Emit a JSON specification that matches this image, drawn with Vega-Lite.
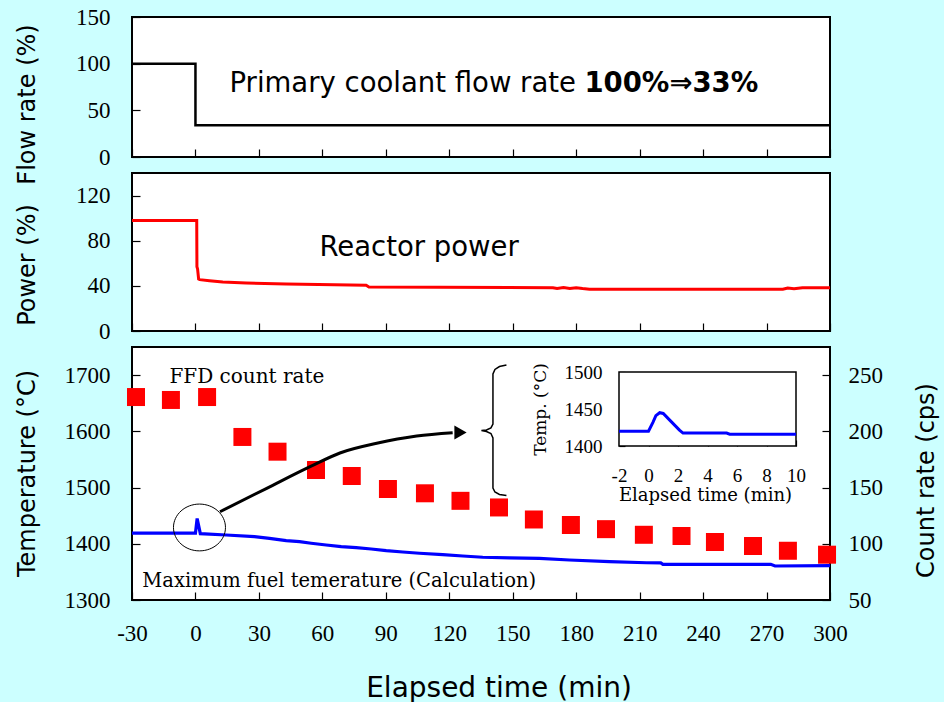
{
  "$schema": "https://vega.github.io/schema/vega-lite/v6.json",
  "padding": {"left": 14, "top": 5, "right": 5, "bottom": 0},
  "datasets": {
    "flow": [{"t": -30, "v": 100}, {"t": 0, "v": 100}, {"t": 0, "v": 34}, {"t": 300, "v": 34}],
    "power": [
      {"t": -30, "p": 98}, {"t": 0.6, "p": 98}, {"t": 0.7, "p": 57}, {"t": 1.0, "p": 55}, {"t": 1.5, "p": 46},
      {"t": 2, "p": 45.5}, {"t": 6.6, "p": 44.6}, {"t": 12.9, "p": 43.4}, {"t": 24, "p": 42.5}, {"t": 42.9, "p": 41.6},
      {"t": 80.7, "p": 40.5}, {"t": 82, "p": 39}, {"t": 169, "p": 38.4}, {"t": 171, "p": 37.6}, {"t": 174, "p": 38.5},
      {"t": 177, "p": 37.6}, {"t": 180, "p": 38.4}, {"t": 183, "p": 37.6}, {"t": 186.3, "p": 37.1}, {"t": 277.7, "p": 37.0},
      {"t": 280, "p": 38.1}, {"t": 283, "p": 37.4}, {"t": 287, "p": 38.4}, {"t": 300, "p": 38.4}
    ],
    "temp": [
      {"t": -30, "T": 1419}, {"t": 0, "T": 1419}, {"t": 0.8, "T": 1445}, {"t": 2.3, "T": 1418}, {"t": 14.5, "T": 1415.6},
      {"t": 27.9, "T": 1412.6}, {"t": 35, "T": 1409.7}, {"t": 42.9, "T": 1405.5}, {"t": 49.2, "T": 1403.7}, {"t": 54.7, "T": 1400.9},
      {"t": 61.8, "T": 1397.8}, {"t": 68.9, "T": 1394.8}, {"t": 76, "T": 1393}, {"t": 83.1, "T": 1390.7}, {"t": 90.2, "T": 1387.7},
      {"t": 98, "T": 1385.4}, {"t": 105.9, "T": 1383.1}, {"t": 116.9, "T": 1380.6}, {"t": 126.4, "T": 1378.3}, {"t": 135.8, "T": 1376},
      {"t": 148.5, "T": 1375}, {"t": 162.6, "T": 1374}, {"t": 176.8, "T": 1371.1}, {"t": 195.7, "T": 1368.1}, {"t": 213.2, "T": 1366.3},
      {"t": 220, "T": 1366}, {"t": 221, "T": 1363.5}, {"t": 272, "T": 1363.5}, {"t": 274, "T": 1360.5}, {"t": 300, "T": 1361}
    ],
    "ffd": [
      {"t": -28.1, "cps": 230.5}, {"t": -11.6, "cps": 227.9}, {"t": 5.5, "cps": 230.5}, {"t": 22.2, "cps": 195}, {"t": 38.8, "cps": 181.9},
      {"t": 57, "cps": 165.6}, {"t": 73.9, "cps": 160.3}, {"t": 91, "cps": 148.7}, {"t": 108.5, "cps": 144.9}, {"t": 125.3, "cps": 138.2},
      {"t": 143.5, "cps": 132.3}, {"t": 160, "cps": 121.6}, {"t": 177.5, "cps": 116.7}, {"t": 194.1, "cps": 113}, {"t": 212, "cps": 108},
      {"t": 229.8, "cps": 106.9}, {"t": 245.6, "cps": 101.6}, {"t": 263.6, "cps": 98}, {"t": 280.1, "cps": 93.8}, {"t": 298.6, "cps": 90.3}
    ],
    "arrow": [
      {"t": 11.6, "T": 1457}, {"t": 33.7, "T": 1498.7}, {"t": 54.2, "T": 1537.1}, {"t": 68.3, "T": 1561.5},
      {"t": 85.7, "T": 1578.7}, {"t": 104.6, "T": 1591.7}, {"t": 121.6, "T": 1597.6}
    ],
    "brace": [
      {"i": 0, "t": 147.03, "T": 1718.0}, {"i": 1, "t": 143.72, "T": 1715.3}, {"i": 2, "t": 141.59, "T": 1710.0},
      {"i": 3, "t": 140.65, "T": 1702.0}, {"i": 4, "t": 140.65, "T": 1613.1}, {"i": 5, "t": 139.70, "T": 1606.0},
      {"i": 6, "t": 137.58, "T": 1602.4}, {"i": 7, "t": 135.21, "T": 1601.5}, {"i": 8, "t": 137.58, "T": 1599.7},
      {"i": 9, "t": 139.70, "T": 1596.2}, {"i": 10, "t": 140.65, "T": 1588.2}, {"i": 11, "t": 140.65, "T": 1499.2},
      {"i": 12, "t": 141.59, "T": 1492.1}, {"i": 13, "t": 143.72, "T": 1487.7}, {"i": 14, "t": 147.03, "T": 1485.9}
    ],
    "inset": [
      {"t": -2, "T": 1420}, {"t": 0, "T": 1420}, {"t": 0.3, "T": 1432}, {"t": 0.5, "T": 1441}, {"t": 0.76, "T": 1445},
      {"t": 1.0, "T": 1444}, {"t": 1.44, "T": 1435}, {"t": 2.1, "T": 1421.5}, {"t": 2.34, "T": 1417.5}, {"t": 5.3, "T": 1417.5},
      {"t": 5.5, "T": 1416}, {"t": 10, "T": 1416}
    ]
  },
  "spacing": 16,
  "bounds": "flush",
  "vconcat": [
    {
      "width": 698,
      "height": 140,
      "layer": [
        {
          "data": {"name": "flow"},
          "mark": {"type": "line", "color": "black", "strokeWidth": 2.5},
          "encoding": {
            "x": {"field": "t", "type": "quantitative", "scale": {"domain": [-30, 300], "nice": false, "zero": false},
              "axis": {"labels": false, "labelPadding": 0, "title": null, "values": [-30, 0, 30, 60, 90, 120, 150, 180, 210, 240, 270, 300]}},
            "y": {"field": "v", "type": "quantitative", "scale": {"domain": [0, 150], "nice": false},
              "axis": {"values": [0, 50, 100, 150], "title": "Flow rate (%)", "titleX": -97.5, "titleY": 87, "titleAngle": 270, "titleAlign": "center", "titleBaseline": "alphabetic"}}
          }
        },
        {
          "data": {"values": [{}]},
          "mark": {"type": "text", "text": "Primary coolant flow rate", "font": "DejaVu Sans", "fontSize": 27.5, "align": "left", "baseline": "alphabetic", "color": "black"},
          "encoding": {"x": {"datum": 16.1}, "y": {"datum": 69.4}}
        },
        {
          "data": {"values": [{}]},
          "mark": {"type": "text", "text": "100%⇒33%", "font": "DejaVu Sans", "fontWeight": "bold", "fontSize": 27.5, "align": "left", "baseline": "alphabetic", "color": "black"},
          "encoding": {"x": {"datum": 183.9}, "y": {"datum": 69.4}}
        }
      ]
    },
    {
      "width": 698,
      "height": 158,
      "layer": [
        {
          "data": {"name": "power"},
          "mark": {"type": "line", "color": "#ff0000", "strokeWidth": 3},
          "encoding": {
            "x": {"field": "t", "type": "quantitative", "scale": {"domain": [-30, 300], "nice": false, "zero": false},
              "axis": {"labels": false, "labelPadding": 0, "title": null, "values": [-30, 0, 30, 60, 90, 120, 150, 180, 210, 240, 270, 300]}},
            "y": {"field": "p", "type": "quantitative", "scale": {"domain": [0, 140], "nice": false},
              "axis": {"values": [0, 40, 80, 120], "title": "Power (%)", "titleX": -97.5, "titleY": 91.5, "titleAngle": 270, "titleAlign": "center", "titleBaseline": "alphabetic"}}
          }
        },
        {
          "data": {"values": [{}]},
          "mark": {"type": "text", "text": "Reactor power", "font": "DejaVu Sans", "fontSize": 27.5, "align": "left", "baseline": "alphabetic", "color": "black"},
          "encoding": {"x": {"datum": 58.6}, "y": {"datum": 66.5}}
        }
      ]
    },
    {
      "width": 698,
      "height": 253,
      "resolve": {"scale": {"x": "independent", "y": "independent"}, "axis": {"x": "independent", "y": "independent"}},
      "layer": [
        {
          "data": {"name": "temp"},
          "mark": {"type": "line", "color": "#0000ff", "strokeWidth": 3.2},
          "encoding": {
            "x": {"field": "t", "type": "quantitative", "scale": {"domain": [-30, 300], "nice": false, "zero": false},
              "axis": {"orient": "bottom", "values": [-30, 0, 30, 60, 90, 120, 150, 180, 210, 240, 270, 300], "title": "Elapsed time (min)", "titleFontSize": 28, "titleX": 366.5, "titleY": 96, "titleAlign": "center", "titleBaseline": "alphabetic"}},
            "y": {"field": "T", "type": "quantitative", "scale": {"domain": [1300, 1750], "nice": false, "zero": false},
              "axis": {"orient": "left", "values": [1300, 1400, 1500, 1600, 1700], "title": "Temperature (°C)", "titleX": -97.5, "titleY": 126, "titleAngle": 270, "titleAlign": "center", "titleBaseline": "alphabetic"}}
          }
        },
        {
          "data": {"name": "ffd"},
          "mark": {"type": "point", "shape": "square", "filled": true, "color": "#ff0000", "size": 324, "opacity": 1},
          "encoding": {
            "x": {"field": "t", "type": "quantitative", "scale": {"domain": [-30, 300], "nice": false, "zero": false}, "axis": null},
            "y": {"field": "cps", "type": "quantitative", "scale": {"domain": [50, 275], "nice": false, "zero": false},
              "axis": {"orient": "right", "values": [50, 100, 150, 200, 250], "labelPadding": 26, "title": "Count rate (cps)", "titleX": 103, "titleY": 133, "titleAngle": 270, "titleAlign": "center", "titleBaseline": "alphabetic"}}
          }
        },
        {
          "data": {"values": [{}]},
          "mark": {"type": "point", "shape": "M-1,0A1,0.9,0,1,1,1,0A1,0.9,0,1,1,-1,0Z", "filled": false, "stroke": "black", "strokeWidth": 1, "size": 2704, "opacity": 1},
          "encoding": {
            "x": {"datum": 1.9, "type": "quantitative", "scale": {"domain": [-30, 300], "nice": false, "zero": false}, "axis": null},
            "y": {"datum": 1429, "type": "quantitative", "scale": {"domain": [1300, 1750], "nice": false, "zero": false}, "axis": null}
          }
        },
        {
          "data": {"name": "arrow"},
          "mark": {"type": "line", "color": "black", "strokeWidth": 3, "interpolate": "monotone"},
          "encoding": {
            "x": {"field": "t", "type": "quantitative", "scale": {"domain": [-30, 300], "nice": false, "zero": false}, "axis": null},
            "y": {"field": "T", "type": "quantitative", "scale": {"domain": [1300, 1750], "nice": false, "zero": false}, "axis": null}
          }
        },
        {
          "data": {"values": [{}]},
          "mark": {"type": "point", "shape": "triangle-right", "filled": true, "color": "black", "size": 200, "opacity": 1},
          "encoding": {
            "x": {"datum": 125.3, "type": "quantitative", "scale": {"domain": [-30, 300], "nice": false, "zero": false}, "axis": null},
            "y": {"datum": 1597.9, "type": "quantitative", "scale": {"domain": [1300, 1750], "nice": false, "zero": false}, "axis": null}
          }
        },
        {
          "data": {"name": "brace"},
          "mark": {"type": "line", "color": "black", "strokeWidth": 1.5},
          "encoding": {
            "x": {"field": "t", "type": "quantitative", "scale": {"domain": [-30, 300], "nice": false, "zero": false}, "axis": null},
            "y": {"field": "T", "type": "quantitative", "scale": {"domain": [1300, 1750], "nice": false, "zero": false}, "axis": null},
            "order": {"field": "i"}
          }
        },
        {
          "data": {"values": [{}]},
          "mark": {"type": "text", "text": "FFD count rate", "font": "DejaVu Serif", "fontSize": 20, "align": "left", "baseline": "alphabetic", "color": "black"},
          "encoding": {
            "x": {"datum": -12.3, "type": "quantitative", "scale": {"domain": [-30, 300], "nice": false, "zero": false}, "axis": null},
            "y": {"datum": 1686, "type": "quantitative", "scale": {"domain": [1300, 1750], "nice": false, "zero": false}, "axis": null}
          }
        },
        {
          "data": {"values": [{}]},
          "mark": {"type": "text", "text": "Maximum fuel temerature (Calculation)", "font": "DejaVu Serif", "fontSize": 19.5, "align": "left", "baseline": "alphabetic", "color": "black"},
          "encoding": {
            "x": {"datum": -25.1, "type": "quantitative", "scale": {"domain": [-30, 300], "nice": false, "zero": false}, "axis": null},
            "y": {"datum": 1322.6, "type": "quantitative", "scale": {"domain": [1300, 1750], "nice": false, "zero": false}, "axis": null}
          }
        },
        {
          "data": {"values": [{}]},
          "mark": {"type": "rect", "fill": "white", "stroke": "black", "strokeWidth": 1.5},
          "encoding": {
            "x": {"datum": -2, "type": "quantitative", "scale": {"domain": [-2, 10], "range": [487, 664], "nice": false, "zero": false}, "axis": null},
            "x2": {"datum": 10},
            "y": {"datum": 1400, "type": "quantitative", "scale": {"domain": [1400, 1500], "range": [99, 25], "nice": false, "zero": false}, "axis": null},
            "y2": {"datum": 1500}
          }
        },
        {
          "data": {"name": "inset"},
          "mark": {"type": "line", "color": "#0000ff", "strokeWidth": 3},
          "encoding": {
            "x": {"field": "t", "type": "quantitative", "scale": {"domain": [-2, 10], "range": [487, 664], "nice": false, "zero": false},
              "axis": {"orient": "bottom", "offset": -154, "values": [-2, 0, 2, 4, 6, 8, 10], "tickSize": -6, "labelPadding": 26, "labelFontSize": 19,
                "title": "Elapsed time (min)", "titleFont": "DejaVu Serif", "titleFontSize": 18, "titleX": 573, "titleY": 54, "titleAlign": "center", "titleBaseline": "alphabetic"}},
            "y": {"field": "T", "type": "quantitative", "scale": {"domain": [1400, 1500], "range": [99, 25], "nice": false, "zero": false},
              "axis": {"orient": "left", "offset": -487, "values": [1400, 1450, 1500], "tickSize": -6, "labelPadding": 23, "labelFontSize": 19,
                "title": "Temp. (°C)", "titleFont": "DejaVu Serif", "titleFontSize": 17, "titleX": -74, "titleY": 62, "titleAngle": 270, "titleAlign": "center", "titleBaseline": "alphabetic"}}
          }
        }
      ]
    }
  ],
  "config": {
    "background": "#ccffff",
    "view": {"fill": "white", "stroke": "black", "strokeWidth": 2},
    "axis": {
      "domain": false, "grid": false, "ticks": true, "tickColor": "black", "tickSize": -8, "tickWidth": 1.2,
      "labelFont": "Liberation Serif, Times New Roman, DejaVu Serif, serif", "labelFontSize": 23, "labelColor": "black", "labelPadding": 30,
      "labelOverlap": false, "labelFlush": false, "labelExpr": "'' + datum.value",
      "titleFont": "DejaVu Sans", "titleFontSize": 24, "titleFontWeight": "normal", "titleColor": "black", "zindex": 1
    }
  }
}
